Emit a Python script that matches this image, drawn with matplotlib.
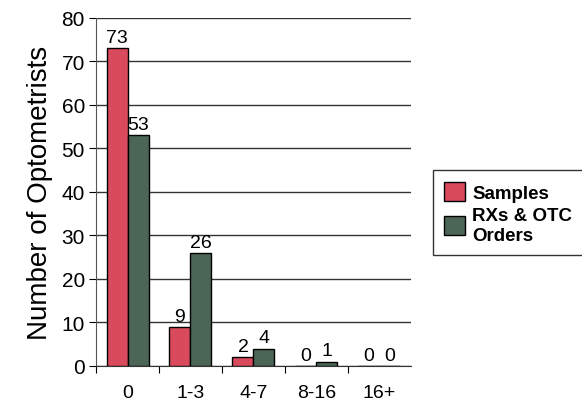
import numpy as np
import matplotlib
matplotlib.use("Agg")
import matplotlib.pyplot as plt
from matplotlib.patches import Patch

categories = ["0", "1-3", "4-7", "8-16", "16+"]
samples = [73, 9, 2, 0, 0]
orders = [53, 26, 4, 1, 0]
series_names = ["Samples", "RXs & OTC\nOrders"]

plt.rcParams["font.family"] = ["Liberation Sans", "DejaVu Sans"]

fig = plt.figure(figsize=(5.82, 4.10), dpi=100)
ax = fig.add_axes([0.165, 0.105, 0.541, 0.849])

x = np.arange(len(categories))
w = 1 / 3
red, green = "#d84a5c", "#4b6656"
b1 = ax.bar(x - w / 2, samples, w, color=red, edgecolor="black", linewidth=1.0, zorder=3)
b2 = ax.bar(x + w / 2, orders, w, color=green, edgecolor="black", linewidth=1.0, zorder=3)

for bars, vals in ((b1, samples), (b2, orders)):
    for rect, v in zip(bars, vals):
        ax.text(rect.get_x() + rect.get_width() / 2, v + 0.5, str(v),
                ha="center", va="bottom", fontsize=14, zorder=4)

ax.set_xlim(-0.5, len(categories) - 0.5)
ax.set_ylim(0, 80)
ax.set_yticks(range(0, 81, 10))
ax.set_xticks(np.arange(-0.5, len(categories) - 0.5, 1))
ax.set_xticklabels([])
ax.set_xticks(x, minor=True)
ax.set_xticklabels(categories, minor=True, fontsize=14)
ax.tick_params(axis="x", which="minor", length=0, pad=13)
ax.tick_params(axis="x", which="major", length=5, width=0.8, direction="out")
ax.tick_params(axis="y", length=5, width=0.8, labelsize=15, pad=3)

ax.yaxis.grid(True, color="#333333", linewidth=1.0, zorder=0)
for side in ("top", "right"):
    ax.spines[side].set_visible(False)
ax.spines["left"].set_color("#555555")
ax.spines["bottom"].set_color("#333333")

ax.set_ylabel("Number of Optometrists", fontsize=20, labelpad=6)

handles = [Patch(facecolor=red, edgecolor="black"), Patch(facecolor=green, edgecolor="black")]
fig.legend(handles, series_names, loc="upper left", bbox_to_anchor=(0.728, 0.605),
           frameon=True, fancybox=False, edgecolor="black",
           prop={"weight": "bold", "size": 13.5}, handlelength=1.1, handleheight=1.2,
           handletextpad=0.4, borderpad=0.6, labelspacing=0.3)

fig.savefig("out.png", dpi=100)
